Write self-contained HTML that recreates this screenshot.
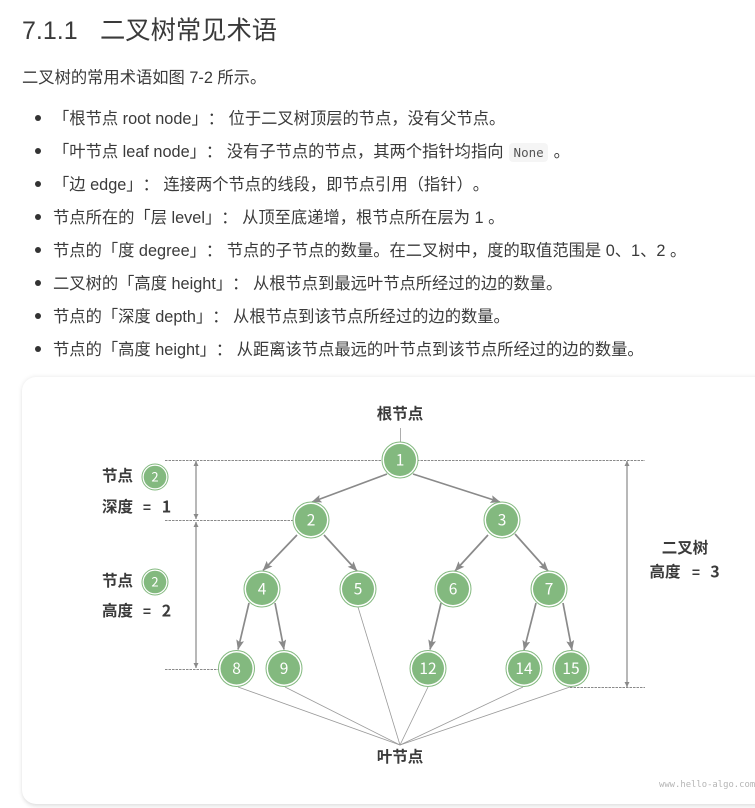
<!DOCTYPE html>
<html lang="zh">
<head>
<meta charset="utf-8">
<style>
html,body{margin:0;padding:0;background:#fff;}
body{position:relative;width:755px;height:808px;overflow:hidden;font-family:"Liberation Sans","Noto Sans CJK SC",sans-serif;color:#3a3a3a;font-size:16.3px;text-spacing-trim:space-all;}
.t{position:absolute;white-space:nowrap;line-height:24px;text-spacing-trim:space-all;}
.b{position:absolute;left:35px;width:6px;height:6px;border-radius:50%;background:#333;}
code{font-family:"DejaVu Sans Mono","Liberation Mono",monospace;font-size:12.5px;background:#f5f5f5;border-radius:4px;padding:2px 4.5px;color:#555;margin:0 1px;}
#card{position:absolute;left:22px;top:377px;width:760px;height:427px;border-radius:14px;background:#fff;box-shadow:0 4px 4px -1px rgba(0,0,0,.07),0 0 5px rgba(0,0,0,.1);}
svg{position:absolute;left:0;top:0;}
svg text{font-family:"Liberation Sans","Noto Sans CJK SC",sans-serif;font-weight:700;font-size:15.5px;fill:#3b3b3b;text-anchor:middle;}
svg text.n{font-family:"Noto Sans CJK SC",sans-serif;font-weight:400;font-size:15.5px;fill:#fff;}
svg text.v{font-family:"Noto Sans CJK SC",sans-serif;font-weight:700;font-size:16px;}
svg text.q{font-size:14px;}
</style>
</head>
<body>
<div class="t" style="left:22px;top:15px;font-size:25px;line-height:32px;">7.1.1</div>
<div class="t" style="left:100px;top:15px;font-size:25.3px;line-height:32px;">二叉树常见术语</div>
<div class="t" style="left:22px;top:66px;">二叉树的常用术语如图 7-2 所示。</div>

<div class="b" style="top:115px"></div>
<div class="t" style="left:53px;top:107px;">「根节点 root node」： 位于二叉树顶层的节点，没有父节点。</div>
<div class="b" style="top:148px"></div>
<div class="t" style="left:53px;top:140px;">「叶节点 leaf node」： 没有子节点的节点，其两个指针均指向 <code>None</code> 。</div>
<div class="b" style="top:181px"></div>
<div class="t" style="left:53px;top:173px;">「边 edge」： 连接两个节点的线段，即节点引用（指针）。</div>
<div class="b" style="top:214px"></div>
<div class="t" style="left:53px;top:206px;">节点所在的「层 level」： 从顶至底递增，根节点所在层为 1 。</div>
<div class="b" style="top:247px"></div>
<div class="t" style="left:53px;top:239px;">节点的「度 degree」： 节点的子节点的数量。在二叉树中，度的取值范围是 0、1、2 。</div>
<div class="b" style="top:280px"></div>
<div class="t" style="left:53px;top:272px;">二叉树的「高度 height」： 从根节点到最远叶节点所经过的边的数量。</div>
<div class="b" style="top:313px"></div>
<div class="t" style="left:53px;top:305px;">节点的「深度 depth」： 从根节点到该节点所经过的边的数量。</div>
<div class="b" style="top:346px"></div>
<div class="t" style="left:53px;top:338px;">节点的「高度 height」： 从距离该节点最远的叶节点到该节点所经过的边的数量。</div>

<div id="card"></div>

<svg width="755" height="808" viewBox="0 0 755 808">
<defs>
<marker id="a" markerWidth="5" markerHeight="5" refX="5" refY="2.5" orient="auto-start-reverse" markerUnits="userSpaceOnUse"><path d="M0 0L5 2.5L0 5Z" fill="#8a8a8a"/></marker>
<marker id="e" markerWidth="10" markerHeight="8" refX="9.5" refY="4" orient="auto" markerUnits="userSpaceOnUse"><path d="M0 0L10 4L0 8L2 4Z" fill="#8a8a8a"/></marker>
</defs>

<!-- dashed guides -->
<g stroke="#8a8a8a" stroke-width="1" stroke-dasharray="2.5 1" fill="none">
<line x1="165" y1="460.5" x2="645" y2="460.5"/>
<line x1="165" y1="520.5" x2="295" y2="520.5"/>
<line x1="165" y1="669.5" x2="219" y2="669.5"/>
<line x1="570" y1="687.5" x2="645" y2="687.5"/>
</g>

<!-- thin leaf lines -->
<g stroke="#999" stroke-width="0.8" fill="none">
<line x1="400.5" y1="428" x2="400.5" y2="442"/>
<line x1="400" y1="745" x2="238" y2="687"/>
<line x1="400" y1="745" x2="285" y2="687"/>
<line x1="400" y1="745" x2="358" y2="607"/>
<line x1="400" y1="745" x2="428" y2="687"/>
<line x1="400" y1="745" x2="523" y2="687"/>
<line x1="400" y1="745" x2="570" y2="687"/>
</g>

<!-- dimension arrows -->
<g stroke="#a0a0a0" stroke-width="1.5" fill="none">
<line x1="196" y1="461" x2="196" y2="519" marker-start="url(#a)" marker-end="url(#a)"/>
<line x1="196" y1="522" x2="196" y2="668" marker-start="url(#a)" marker-end="url(#a)"/>
<line x1="627" y1="461" x2="627" y2="687" marker-start="url(#a)" marker-end="url(#a)"/>
</g>

<!-- edges -->
<g stroke="#8a8a8a" stroke-width="1.7" fill="none">
<line x1="387" y1="474" x2="312" y2="502" marker-end="url(#e)"/>
<line x1="413" y1="474" x2="500" y2="502" marker-end="url(#e)"/>
<line x1="297" y1="535" x2="263" y2="570.5" marker-end="url(#e)"/>
<line x1="324" y1="535" x2="357" y2="571" marker-end="url(#e)"/>
<line x1="488" y1="535" x2="455" y2="571" marker-end="url(#e)"/>
<line x1="515" y1="534" x2="548" y2="571" marker-end="url(#e)"/>
<line x1="249" y1="603" x2="238" y2="649.5" marker-end="url(#e)"/>
<line x1="275" y1="603" x2="284" y2="649.5" marker-end="url(#e)"/>
<line x1="441" y1="603" x2="430" y2="649.5" marker-end="url(#e)"/>
<line x1="536" y1="603" x2="524" y2="650" marker-end="url(#e)"/>
<line x1="563" y1="603" x2="572" y2="650" marker-end="url(#e)"/>
</g>

<!-- nodes -->
<g fill="#fff" stroke="#83b97f" stroke-width="1">
<circle cx="400" cy="460" r="18"/><circle cx="311" cy="520" r="18"/><circle cx="502" cy="520" r="18"/>
<circle cx="262" cy="589" r="18"/><circle cx="358" cy="589" r="18"/><circle cx="453" cy="589" r="18"/><circle cx="549" cy="589" r="18"/>
<circle cx="236.5" cy="668.5" r="18"/><circle cx="284" cy="668.5" r="18"/><circle cx="428" cy="668.5" r="18"/><circle cx="524" cy="668.5" r="18"/><circle cx="571" cy="668.5" r="18"/>
<circle cx="155" cy="477" r="13"/><circle cx="155" cy="582" r="13"/>
</g>
<g fill="#83b97f">
<circle cx="400" cy="460" r="16"/><circle cx="311" cy="520" r="16"/><circle cx="502" cy="520" r="16"/>
<circle cx="262" cy="589" r="16"/><circle cx="358" cy="589" r="16"/><circle cx="453" cy="589" r="16"/><circle cx="549" cy="589" r="16"/>
<circle cx="236.5" cy="668.5" r="16"/><circle cx="284" cy="668.5" r="16"/><circle cx="428" cy="668.5" r="16"/><circle cx="524" cy="668.5" r="16"/><circle cx="571" cy="668.5" r="16"/>
<circle cx="155" cy="477" r="11.3"/><circle cx="155" cy="582" r="11.3"/>
</g>
<text class="n" x="400" y="465.5">1</text>
<text class="n" x="311" y="525.5">2</text>
<text class="n" x="502" y="525.5">3</text>
<text class="n" x="262" y="594.5">4</text>
<text class="n" x="358" y="594.5">5</text>
<text class="n" x="453" y="594.5">6</text>
<text class="n" x="549" y="594.5">7</text>
<text class="n" x="236.5" y="674">8</text>
<text class="n" x="284" y="674">9</text>
<text class="n" x="428" y="674">12</text>
<text class="n" x="524" y="674">14</text>
<text class="n" x="571" y="674">15</text>
<text class="n" style="font-size:13px" x="155" y="481.5">2</text>
<text class="n" style="font-size:13px" x="155" y="586.5">2</text>

<!-- labels -->
<text x="400" y="419">根节点</text>
<text x="400" y="762">叶节点</text>
<text x="117.5" y="481">节点</text>
<text x="117.5" y="512">深度</text>
<text class="q" x="147" y="512">=</text>
<text class="v" x="166.5" y="512.5">1</text>
<text x="117.5" y="586">节点</text>
<text x="117.5" y="616">高度</text>
<text class="q" x="147" y="616">=</text>
<text class="v" x="166.5" y="616.5">2</text>
<text x="685" y="553">二叉树</text>
<text x="665" y="577">高度</text>
<text class="q" x="696" y="577">=</text>
<text class="v" x="715" y="577.5">3</text>
<text x="659" y="787" style="font-family:'DejaVu Sans Mono','Liberation Mono',monospace;font-weight:400;font-size:8.9px;fill:#b5b5b5;text-anchor:start">www.hello-algo.com</text>
</svg>
</body>
</html>
